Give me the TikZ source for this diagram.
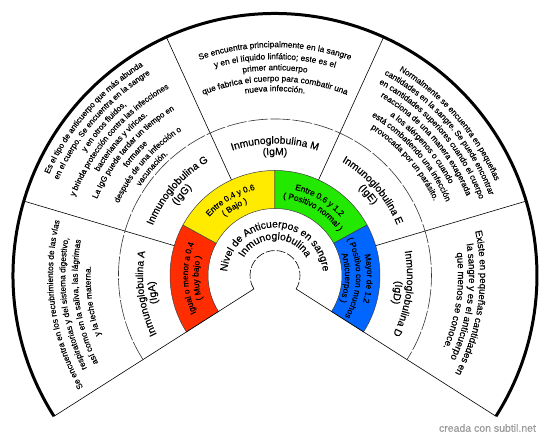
\documentclass[tikz,border=0pt]{standalone}
\usepackage{fontspec}
\setmainfont{Liberation Sans}[FakeBold=0.5]
\usetikzlibrary{decorations.text}
\definecolor{lvlrojo}{RGB}{255,45,0}
\definecolor{lvlamarillo}{RGB}{255,235,0}
\definecolor{lvlverde}{RGB}{35,232,0}
\definecolor{lvlazul}{RGB}{0,102,255}
\newcommand{\arctxt}[4]{\path[decorate,decoration={text along path,text align=center,text={|\fontsize{#3}{#3}\selectfont|#4}}] (#2+100:#1pt) arc[start angle=#2+100,end angle=#2-100,radius=#1pt];}
\begin{document}
\begin{tikzpicture}[sep/.style={draw=black,line width=0.6pt},ring/.style={draw=black!75,line width=0.5pt}]
\useasboundingbox (-275pt,-162.5pt) rectangle (275pt,275.5pt);
\foreach \a/\b/\c in {151.25/212.5/lvlrojo,90/151.25/lvlamarillo,28.75/90/lvlverde,-32.5/28.75/lvlazul}
  \filldraw[ring,fill=\c] (\a:67pt) arc[start angle=\a,end angle=\b,radius=67pt] -- (\b:105pt) arc[start angle=\b,end angle=\a,radius=105pt] -- cycle;
\foreach \a in {16.5,65.5,114.5,163.5}
  \draw[sep] (\a:105pt) -- (\a:262pt);
\draw[sep] (212.5:25pt) -- (212.5:262pt);
\draw[sep] (-32.5:25pt) -- (-32.5:262pt);
\draw[sep,black!80,dash pattern=on 20pt off 2pt] (212.5:156.5pt) arc[start angle=212.5,end angle=-32.5,radius=156.5pt];
\draw[sep,dash pattern=on 9pt off 2pt] (212.5:25pt) arc[start angle=212.5,end angle=-32.5,radius=25pt];
\draw[line width=3pt] (212.5:262pt) arc[start angle=212.5,end angle=-32.5,radius=262pt];
\arctxt{48}{90}{10.3}{Nivel de Anticuerpos en sangre}
\arctxt{36}{90}{10.3}{Inmunoglobulina}
\arctxt{87}{181.875}{8.3}{Igual o menor a 0.4}
\arctxt{76.5}{181.875}{8.3}{( Muy bajo )}
\arctxt{88}{120.625}{8.3}{Entre 0.4 y 0.6}
\arctxt{77.5}{120.625}{8.3}{( Bajo )}
\arctxt{88}{59.375}{8.3}{Entre 0.6 y 1.2}
\arctxt{77.5}{59.375}{8.3}{( Positivo normal )}
\arctxt{92}{-1.875}{8.3}{Mayor de 1.2}
\arctxt{81}{-1.875}{8.3}{( Positivo con muchos}
\arctxt{70}{-1.875}{8.3}{Anticuerpos )}
\arctxt{132}{188}{10.3}{Inmunoglobulina A}
\arctxt{120.5}{188}{10.3}{(IgA)}
\arctxt{132}{139}{10.3}{Inmunoglobulina G}
\arctxt{120.5}{139}{10.3}{(IgG)}
\arctxt{132}{90}{10.3}{Inmunoglobulina M}
\arctxt{120.5}{90}{10.3}{(IgM)}
\arctxt{132}{41}{10.3}{Inmunoglobulina E}
\arctxt{120.5}{41}{10.3}{(IgE)}
\arctxt{132}{-8}{10.3}{Inmunoglobulina D}
\arctxt{120.5}{-8}{10.3}{(IgD)}
\arctxt{222}{188}{8.3}{Se encuentra en los recubrimientos de las vías}
\arctxt{209.7}{188}{8.3}{respiratorias y del sistema digestivo,}
\arctxt{197.3}{188}{8.3}{así como en la saliva, las lágrimas}
\arctxt{184.4}{188}{8.3}{y la leche materna.}
\arctxt{247.5}{139}{8}{Es el tipo de anticuerpo que más abunda}
\arctxt{236.75}{139}{8}{en el cuerpo. Se encuentra en la sangre}
\arctxt{226}{139}{8}{y en otros fluidos,}
\arctxt{215.25}{139}{8}{y brinda protección contra las infecciones}
\arctxt{204.5}{139}{8}{bacterianas y víricas.}
\arctxt{193.75}{139}{8}{La IgG puede tardar un tiempo en}
\arctxt{183}{139}{8}{formarse}
\arctxt{172.25}{139}{8}{después de una infección o}
\arctxt{161.5}{139}{8}{vacunación.}
\arctxt{228.3}{90}{8.3}{Se encuentra principalmente en la sangre}
\arctxt{216.3}{90}{8.3}{y en el líquido linfático; este es el}
\arctxt{205.3}{90}{8.3}{primer anticuerpo}
\arctxt{194.3}{90}{8.3}{que fabrica el cuerpo para combatir una}
\arctxt{184.3}{90}{8.3}{nueva infección.}
\arctxt{239.5}{41}{8.2}{Normalmente se encuentra en pequeñas}
\arctxt{228.8}{41}{8.2}{cantidades en la sangre. Se puede encontrar}
\arctxt{218.2}{41}{8.2}{en cantidades superiores cuando el cuerpo}
\arctxt{207.5}{41}{8.2}{reacciona de una manera exagerada}
\arctxt{196.8}{41}{8.2}{a los alérgenos o cuando}
\arctxt{186.2}{41}{8.2}{está combatiendo una infección}
\arctxt{175.5}{41}{8.2}{provocada por un parásito.}
\arctxt{205}{-8}{9.6}{Existe en pequeñas cantidades en}
\arctxt{194}{-8}{9.6}{la sangre y es el anticuerpo}
\arctxt{183}{-8}{9.6}{que menos se conoce.}
\node[text=black!40,font=\fontsize{10.5}{12}\selectfont] (credito) at (212.5pt,-152.5pt) {creada con subtil.net};
\end{tikzpicture}
\end{document}
